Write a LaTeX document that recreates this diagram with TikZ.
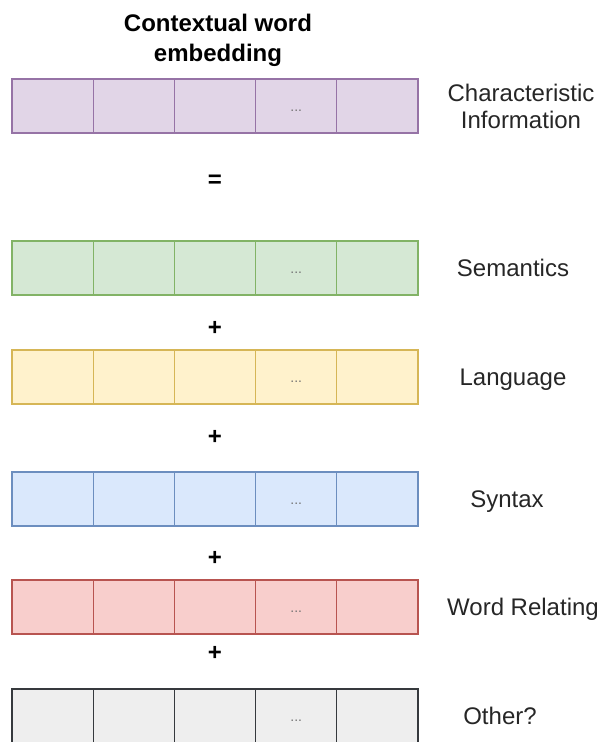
\documentclass[tikz,border=0pt]{standalone}
\usepackage{fontspec}
\setmainfont{Liberation Sans}
\usetikzlibrary{positioning}

\definecolor{purplefill}{HTML}{E1D5E7}
\definecolor{purpledraw}{HTML}{9673A6}
\definecolor{greenfill}{HTML}{D5E8D4}
\definecolor{greendraw}{HTML}{82B366}
\definecolor{yellowfill}{HTML}{FFF2CC}
\definecolor{yellowdraw}{HTML}{D6B656}
\definecolor{bluefill}{HTML}{DAE8FC}
\definecolor{bluedraw}{HTML}{6C8EBF}
\definecolor{redfill}{HTML}{F8CECC}
\definecolor{reddraw}{HTML}{B85450}
\definecolor{grayfill}{HTML}{EEEEEE}
\definecolor{graydraw}{HTML}{36393D}

\begin{document}
\begin{tikzpicture}[x=1pt,y=-1pt,
    cell/.style={draw,line width=1.2pt,minimum width=81.2pt,minimum height=54pt,
      inner sep=0pt,outer sep=0pt,text height=10pt,text depth=0pt,
      font=\fontsize{14}{14}\selectfont,text=black!55},
    lab/.style={font=\fontsize{24}{27}\selectfont,text=black!85,align=center},
    op/.style={font=\bfseries\fontsize{24}{24}\selectfont}]
    \useasboundingbox (0,0) rectangle (602,742);
    \node[font=\bfseries\fontsize{24}{30}\selectfont,align=center] (title) at (218,40.5) {Contextual word\\embedding};
    % one row of five cells per part of the embedding
    \foreach \r/\y/\fc/\dc in {emb/106/purplefill/purpledraw, sem/268/greenfill/greendraw,
        lang/377/yellowfill/yellowdraw, syn/499/bluefill/bluedraw,
        rel/607/redfill/reddraw, oth/716/grayfill/graydraw}{
      \foreach \i in {1,...,5}{
        \node[cell,fill=\fc,draw=\dc] (\r\i) at ({12+81.2*(\i-0.5)},\y) {\ifnum\i=4 ...\fi};
      }
    }
    \node[lab] (embl) at (521,106) {Characteristic\\Information};
    \node[lab] (seml) at (513,268) {Semantics};
    \node[lab] (langl) at (513,380) {Language};
    \node[lab] (synl) at (507,502) {Syntax};
    \node[lab] (rell) at (523,609) {Word Relating};
    \node[lab] (othl) at (500,716) {Other?};
    \node[op] (eq) at (215,181) {=};
    \node[op] (plus1) at (215,328) {+};
    \node[op] (plus2) at (215,437) {+};
    \node[op] (plus3) at (215,558) {+};
    \node[op] (plus4) at (215,653) {+};
\end{tikzpicture}
\end{document}
